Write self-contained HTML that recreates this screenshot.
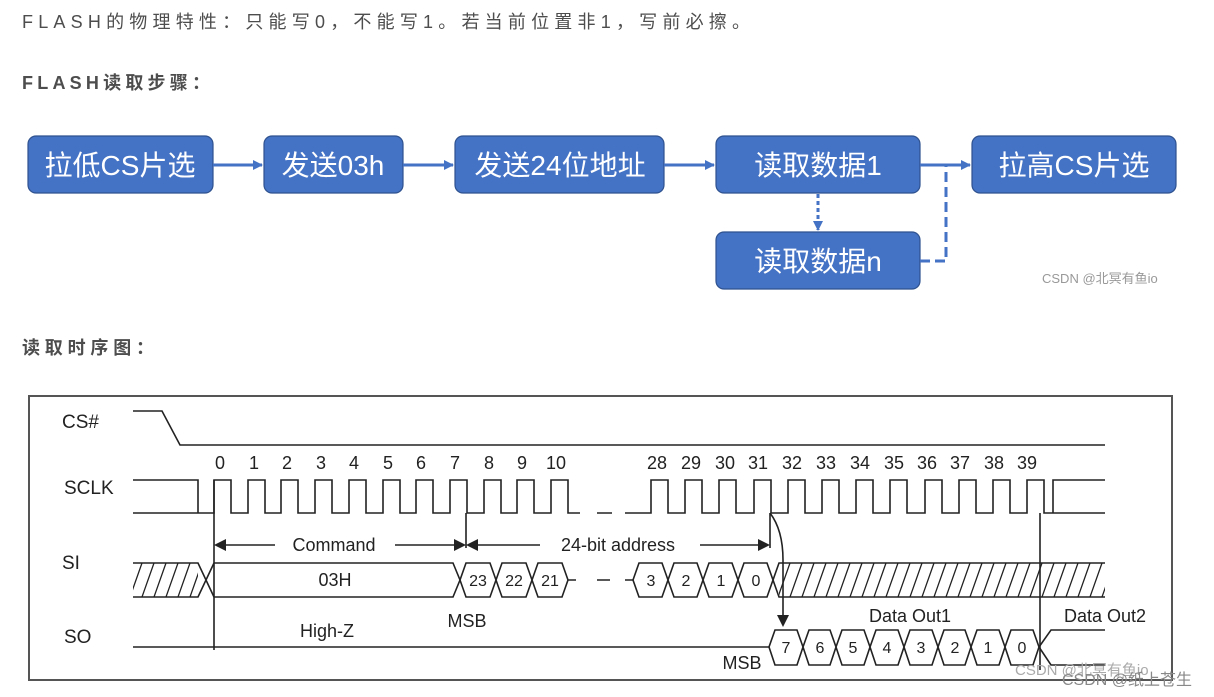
<!DOCTYPE html>
<html><head><meta charset="utf-8"><style>
html,body{margin:0;padding:0;background:#fff;width:1214px;height:697px;overflow:hidden}
svg{display:block}
.t{font-family:"Liberation Sans","Noto Sans CJK SC",sans-serif}
</style></head><body>
<svg width="1214" height="697" viewBox="0 0 1214 697" xmlns="http://www.w3.org/2000/svg" class="t">
<defs>
<marker id="ab" markerWidth="10" markerHeight="10" refX="9" refY="5" orient="auto" markerUnits="userSpaceOnUse"><path d="M0,0 L10,5 L0,10 z" fill="#4472C4"/></marker>
<pattern id="hatch" width="12" height="34" patternUnits="userSpaceOnUse" patternTransform="translate(0,563)"><path d="M-2,34 L10,0 M10,34 L22,0" stroke="#222" stroke-width="1.3" fill="none"/></pattern>
</defs>
<g fill="#4d4d4d" font-family="Liberation Sans,Noto Sans CJK SC,sans-serif">
<text x="22" y="28" font-size="18" textLength="728" lengthAdjust="spacing">FLASH的物理特性：只能写0，不能写1。若当前位置非1，写前必擦。</text>
<text x="22" y="89" font-size="18" font-weight="bold" textLength="188" lengthAdjust="spacing">FLASH读取步骤：</text>
<text x="22" y="354" font-size="18" font-weight="bold" textLength="132" lengthAdjust="spacing">读取时序图：</text>
</g>
<g stroke="#2F528F" stroke-width="1.2" fill="#4472C4">
<rect x="28" y="136" width="185" height="57" rx="8"/>
<rect x="264" y="136" width="139" height="57" rx="8"/>
<rect x="455" y="136" width="209" height="57" rx="8"/>
<rect x="716" y="136" width="204" height="57" rx="8"/>
<rect x="972" y="136" width="204" height="57" rx="8"/>
<rect x="716" y="232" width="204" height="57" rx="8"/>
</g>
<g fill="#fff" font-size="28" text-anchor="middle" font-family="Liberation Sans,Noto Sans CJK SC,sans-serif">
<text x="120" y="175">拉低CS片选</text>
<text x="333" y="175">发送03h</text>
<text x="560" y="175">发送24位地址</text>
<text x="818" y="175">读取数据1</text>
<text x="1074" y="175">拉高CS片选</text>
<text x="818" y="271">读取数据n</text>
</g>
<g stroke="#4472C4" stroke-width="3" fill="none">
<line x1="213" y1="165" x2="262" y2="165" marker-end="url(#ab)"/>
<line x1="403" y1="165" x2="453" y2="165" marker-end="url(#ab)"/>
<line x1="664" y1="165" x2="714" y2="165" marker-end="url(#ab)"/>
<line x1="920" y1="165" x2="970" y2="165" marker-end="url(#ab)"/>
<line x1="818" y1="194" x2="818" y2="230" stroke-dasharray="4,3" marker-end="url(#ab)"/>
<polyline points="920,261 946,261 946,166" stroke-dasharray="10,5"/>
</g>
<text x="1042" y="283" font-size="13" fill="#999">CSDN @北冥有鱼io</text>
<rect x="29" y="396" width="1143" height="284" fill="#fff" stroke="#555" stroke-width="2"/>
<g font-size="19" fill="#222">
<text x="62" y="428">CS#</text>
<text x="64" y="494">SCLK</text>
<text x="62" y="569">SI</text>
<text x="64" y="643">SO</text>
</g>
<g stroke="#222" stroke-width="1.6" fill="none">
<polyline points="133,411 162,411 180,445 1105,445"/>
<path d="M133,513 H198 M133,480 H198 V513 H214 V480 H231 V513 H248 V480 H265 V513 H281 V480 H298 V513 H315 V480 H332 V513 H349 V480 H366 V513 H383 V480 H400 V513 H416 V480 H433 V513 H450 V480 H467 V513 H484 V480 H501 V513 H517 V480 H534 V513 H551 V480 H568 V513 H580"/>
<path d="M597,513 H612 M625,513 H640"/>
<path d="M640,513 H651 V480 H668 V513 H685 V480 H702 V513 H719 V480 H736 V513 H754 V480 H771 V513 H788 V480 H805 V513 H822 V480 H839 V513 H856 V480 H873 V513 H890 V480 H907 V513 H925 V480 H942 V513 H959 V480 H976 V513 H993 V480 H1010 V513 H1027 V480 H1044 V513 H1105 M1053,513 V480 H1105"/>
<path d="M214,480 V650 M466,513 V548 M770,513 V548 M1040,513 V670"/>
<path d="M770,513 Q783,530 783,560 V618"/>
<path d="M218,545 H275 M395,545 H462 M470,545 H540 M700,545 H766"/>
</g>
<g fill="#222">
<path d="M214,545 l12,-6 v12 z"/><path d="M466,545 l-12,-6 v12 z"/><path d="M466,545 l12,-6 v12 z"/><path d="M770,545 l-12,-6 v12 z"/>
<path d="M783,627 l-6,-12 h12 z"/>
</g>
<rect x="133" y="563" width="65" height="34" fill="url(#hatch)"/>
<rect x="779" y="563" width="326" height="34" fill="url(#hatch)"/>
<g stroke="#222" stroke-width="1.6" fill="none">
<path d="M133,563 H198 L214,597 M133,597 H198 L214,563"/>
<path d="M214,563 H453 L460,580 L453,597 H214"/>
<path d="M460,580 L466,563 H490 L496,580 L490,597 H466 Z M496,580 L502,563 H526 L532,580 L526,597 H502 Z M532,580 L538,563 H562 L568,580 L562,597 H538 Z M568,580 H576 M597,580 H610 M625,580 H633"/>
<path d="M633,580 L639,563 H662 L668,580 L662,597 H639 Z M668,580 L674,563 H697 L703,580 L697,597 H674 Z M703,580 L709,563 H732 L738,580 L732,597 H709 Z M738,580 L744,563 H767 L773,580 L767,597 H744 Z"/>
<path d="M773,580 L779,563 H1105 M773,580 L779,597 H1105"/>
<path d="M133,647 H769"/>
<path d="M769,647 L775,630 H797 L803,647 L797,665 H775 Z M803,647 L809,630 H830 L836,647 L830,665 H809 Z M836,647 L842,630 H864 L870,647 L864,665 H842 Z M870,647 L876,630 H898 L904,647 L898,665 H876 Z M904,647 L910,630 H932 L938,647 L932,665 H910 Z M938,647 L944,630 H965 L971,647 L965,665 H944 Z M971,647 L977,630 H999 L1005,647 L999,665 H977 Z M1005,647 L1011,630 H1033 L1039,647 L1033,665 H1011 Z"/>
<path d="M1039,647 L1051,630 H1105 M1039,647 L1051,665 H1105"/>
</g>
<g font-size="18" fill="#222" text-anchor="middle">
<text x="220" y="469">0</text><text x="254" y="469">1</text><text x="287" y="469">2</text><text x="321" y="469">3</text><text x="354" y="469">4</text><text x="388" y="469">5</text><text x="421" y="469">6</text><text x="455" y="469">7</text><text x="489" y="469">8</text><text x="522" y="469">9</text><text x="556" y="469">10</text>
<text x="657" y="469">28</text><text x="691" y="469">29</text><text x="725" y="469">30</text><text x="758" y="469">31</text><text x="792" y="469">32</text><text x="826" y="469">33</text><text x="860" y="469">34</text><text x="894" y="469">35</text><text x="927" y="469">36</text><text x="960" y="469">37</text><text x="994" y="469">38</text><text x="1027" y="469">39</text>
<text x="334" y="551">Command</text>
<text x="618" y="551">24-bit address</text>
<text x="335" y="586">03H</text>
<text x="327" y="637">High-Z</text>
<text x="467" y="627">MSB</text>
<text x="910" y="622">Data Out1</text>
<text x="1105" y="622">Data Out2</text>
<text x="742" y="669">MSB</text>
</g>
<g font-size="16" fill="#222" text-anchor="middle">
<text x="478" y="586">23</text><text x="514" y="586">22</text><text x="550" y="586">21</text>
<text x="651" y="586">3</text><text x="686" y="586">2</text><text x="721" y="586">1</text><text x="756" y="586">0</text>
<text x="786" y="653">7</text><text x="820" y="653">6</text><text x="853" y="653">5</text><text x="887" y="653">4</text><text x="921" y="653">3</text><text x="955" y="653">2</text><text x="988" y="653">1</text><text x="1022" y="653">0</text>
</g>
<text x="1015" y="675" font-size="15" fill="#aaa">CSDN @北冥有鱼io</text>
<text x="1062" y="685" font-size="16" fill="#888">CSDN @纸上苍生</text>
</svg>
</body></html>
